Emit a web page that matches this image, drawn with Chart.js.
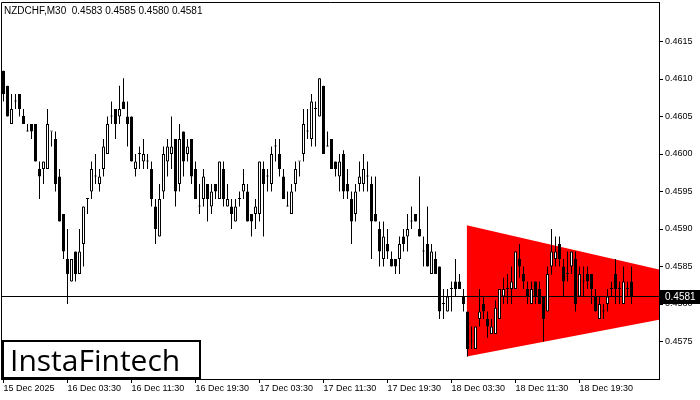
<!DOCTYPE html>
<html><head><meta charset="utf-8">
<script src="https://cdn.jsdelivr.net/npm/chart.js@4.4.0/dist/chart.umd.min.js"></script>
<style>html,body{margin:0;padding:0;background:#fff;}#wrap{width:700px;height:400px;}</style>
</head><body><div id="wrap"><canvas id="c" width="700" height="400"></canvas></div>
<script>
const symbol = 'NZDCHF,M30';
const openP = [
0.46111,0.46091,0.46040,0.46070,0.46080,0.46051,0.46030,0.46040,0.46040,0.45980,
0.45980,0.45980,0.46030,0.46020,0.45970,0.45920,0.45860,0.45830,0.45870,0.45840,
0.45880,0.45940,0.45950,0.45970,0.45960,0.45980,0.46000,0.46050,0.46060,0.46050,
0.46070,0.46050,0.46050,0.45980,0.46000,0.45990,0.45990,0.45980,0.45930,0.45890,
0.45950,0.45990,0.46000,0.46020,0.45960,0.46030,0.46000,0.46020,0.45980,0.45930,
0.45940,0.45960,0.45930,0.45960,0.45940,0.45980,0.45930,0.45930,0.45910,0.45940,
0.45950,0.45950,0.45920,0.45920,0.45920,0.45980,0.45970,0.45960,0.46010,0.46000,
0.45970,0.45930,0.45920,0.45960,0.45990,0.46000,0.46030,0.46020,0.46060,0.46050,
0.46091,0.46010,0.46020,0.45990,0.45970,0.46000,0.45960,0.45940,0.45920,0.45960,
0.45960,0.45970,0.45960,0.45920,0.45900,0.45860,0.45880,0.45860,0.45860,0.45860,
0.45890,0.45890,0.45910,0.45920,0.45900,0.45870,0.45880,0.45840,0.45860,0.45850,
0.45800,0.45790,0.45820,0.45830,0.45830,0.45810,0.45790,0.45750,0.45740,0.45780,
0.45800,0.45780,0.45760,0.45760,0.45780,0.45810,0.45820,0.45820,0.45820,0.45860,
0.45840,0.45820,0.45800,0.45830,0.45820,0.45810,0.45790,0.45850,0.45860,0.45880,
0.45850,0.45840,0.45850,0.45860,0.45810,0.45830,0.45840,0.45840,0.45810,0.45780,
0.45790,0.45800,0.45820,0.45840,0.45820,0.45800,0.45820,0.45830];
const highP = [
0.46111,0.46091,0.46080,0.46080,0.46080,0.46060,0.46040,0.46040,0.46040,0.45990,
0.45990,0.46060,0.46030,0.46030,0.45980,0.45920,0.45900,0.45860,0.45870,0.45900,
0.45930,0.45940,0.45990,0.46000,0.45980,0.46020,0.46050,0.46070,0.46060,0.46091,
0.46101,0.46070,0.46050,0.46000,0.46010,0.46020,0.46000,0.45990,0.45940,0.45960,
0.46010,0.46020,0.46050,0.46020,0.46040,0.46030,0.46020,0.46020,0.45990,0.45960,
0.45980,0.45960,0.45960,0.45960,0.45990,0.45990,0.45960,0.45940,0.45940,0.45950,
0.45980,0.45960,0.45920,0.45940,0.45990,0.45990,0.45980,0.46010,0.46020,0.46020,
0.45980,0.45950,0.45960,0.45990,0.45990,0.46060,0.46060,0.46080,0.46070,0.46101,
0.46091,0.46030,0.46020,0.45990,0.46000,0.46005,0.45980,0.45950,0.45960,0.45990,
0.46000,0.45990,0.45970,0.45970,0.45910,0.45910,0.45900,0.45870,0.45860,0.45890,
0.45900,0.45920,0.45930,0.45920,0.45970,0.45890,0.45930,0.45880,0.45870,0.45850,
0.45820,0.45820,0.45830,0.45860,0.45840,0.45820,0.45790,0.45770,0.45770,0.45820,
0.45810,0.45790,0.45780,0.45805,0.45820,0.45835,0.45840,0.45850,0.45870,0.45880,
0.45850,0.45830,0.45830,0.45830,0.45830,0.45810,0.45850,0.45900,0.45890,0.45890,
0.45860,0.45870,0.45870,0.45870,0.45850,0.45850,0.45850,0.45840,0.45820,0.45810,
0.45800,0.45820,0.45830,0.45860,0.45830,0.45850,0.45830,0.45850];
const lowP = [
0.46070,0.46050,0.46040,0.46060,0.46050,0.46040,0.46030,0.46020,0.45990,0.45940,
0.45960,0.45980,0.46010,0.45950,0.45910,0.45860,0.45800,0.45830,0.45830,0.45840,
0.45850,0.45920,0.45940,0.45960,0.45950,0.45970,0.46000,0.46040,0.46020,0.46040,
0.46060,0.46010,0.45990,0.45970,0.45980,0.45980,0.45980,0.45930,0.45880,0.45890,
0.45940,0.45970,0.45980,0.45930,0.45950,0.45970,0.45990,0.45960,0.45940,0.45920,
0.45930,0.45910,0.45920,0.45940,0.45940,0.45930,0.45930,0.45900,0.45910,0.45930,
0.45940,0.45910,0.45890,0.45900,0.45910,0.45890,0.45950,0.45950,0.45990,0.45970,
0.45940,0.45930,0.45920,0.45950,0.45970,0.45990,0.46020,0.46010,0.46010,0.46050,
0.46000,0.46010,0.45980,0.45970,0.45950,0.45940,0.45940,0.45880,0.45910,0.45950,
0.45950,0.45950,0.45860,0.45910,0.45850,0.45850,0.45860,0.45850,0.45840,0.45840,
0.45870,0.45870,0.45900,0.45910,0.45890,0.45850,0.45850,0.45840,0.45840,0.45780,
0.45780,0.45790,0.45790,0.45810,0.45820,0.45790,0.45730,0.45740,0.45740,0.45770,
0.45780,0.45755,0.45760,0.45760,0.45780,0.45800,0.45800,0.45800,0.45820,0.45835,
0.45820,0.45800,0.45800,0.45800,0.45800,0.45750,0.45790,0.45839,0.45850,0.45850,
0.45810,0.45830,0.45840,0.45790,0.45810,0.45810,0.45820,0.45800,0.45790,0.45780,
0.45780,0.45790,0.45810,0.45800,0.45800,0.45800,0.45810,0.45800];
const closeP = [
0.46080,0.46050,0.46060,0.46070,0.46060,0.46040,0.46030,0.46030,0.45990,0.45970,
0.45990,0.46040,0.46030,0.45960,0.45910,0.45870,0.45840,0.45860,0.45840,0.45870,
0.45930,0.45940,0.45980,0.45970,0.45970,0.46010,0.46040,0.46050,0.46040,0.46060,
0.46060,0.46040,0.45990,0.45990,0.46000,0.46000,0.45990,0.45940,0.45900,0.45940,
0.46000,0.46010,0.46010,0.45950,0.46020,0.45990,0.46010,0.45970,0.45940,0.45930,
0.45970,0.45940,0.45950,0.45950,0.45990,0.45940,0.45940,0.45920,0.45930,0.45940,
0.45960,0.45910,0.45910,0.45930,0.45990,0.45960,0.45970,0.46000,0.46010,0.45980,
0.45940,0.45930,0.45950,0.45980,0.45990,0.46040,0.46030,0.46070,0.46060,0.46101,
0.46000,0.46010,0.45980,0.45980,0.45990,0.45950,0.45950,0.45910,0.45950,0.45970,
0.45980,0.45970,0.45910,0.45910,0.45870,0.45890,0.45870,0.45850,0.45850,0.45880,
0.45880,0.45900,0.45910,0.45910,0.45890,0.45870,0.45850,0.45870,0.45840,0.45790,
0.45800,0.45810,0.45820,0.45820,0.45820,0.45800,0.45740,0.45750,0.45770,0.45790,
0.45790,0.45770,0.45770,0.45795,0.45820,0.45820,0.45820,0.45830,0.45870,0.45850,
0.45830,0.45810,0.45820,0.45810,0.45800,0.45780,0.45840,0.45870,0.45870,0.45860,
0.45830,0.45840,0.45870,0.45800,0.45840,0.45830,0.45830,0.45820,0.45790,0.45800,
0.45790,0.45810,0.45820,0.45820,0.45820,0.45830,0.45820,0.45810];
const timeTickIndex = [0,16,32,48,64,80,96,112,128,144];
const timeTickLabels = ['15 Dec 2025','16 Dec 03:30','16 Dec 11:30','16 Dec 19:30','17 Dec 03:30','17 Dec 11:30','17 Dec 19:30','18 Dec 03:30','18 Dec 11:30','18 Dec 19:30'];
const priceTicks = [0.4575,0.4580,0.4585,0.4590,0.4595,0.4600,0.4605,0.4610,0.4615];
const triangleX = [115.8, 163.875];
const triangleTop = [0.45905, 0.45846];
const triangleBottom = [0.45730, 0.45779];

const last = closeP.length - 1;
const lastPrice = closeP[last];
const xMin = -0.625, xMax = 163.875, yMin = 0.4570, yMax = 0.4620267;
const idx = openP.map((_, i) => i);
const fmt = v => v.toFixed(4);
const headerText = symbol + '  ' + fmt(openP[last]) + ' ' + fmt(highP[last]) + ' ' + fmt(lowP[last]) + ' ' + fmt(lastPrice);

const decor = {
  id: 'decor',
  beforeDatasetsDraw(chart) {
    const ctx = chart.ctx, a = chart.chartArea;
    ctx.save();
    ctx.strokeStyle = '#000'; ctx.lineWidth = 1;
    ctx.beginPath();
    ctx.moveTo(a.left + 0.5, a.bottom); ctx.lineTo(a.left + 0.5, a.top + 0.5); ctx.lineTo(a.right, a.top + 0.5);
    ctx.stroke();
    ctx.restore();
  },
  afterDraw(chart) {
    const ctx = chart.ctx, a = chart.chartArea;
    const y = chart.scales.y.getPixelForValue(lastPrice);
    ctx.save();
    // current price tag
    ctx.fillStyle = '#000';
    ctx.fillRect(a.right + 1, Math.round(y) - 7, 700 - a.right - 1, 14);
    ctx.fillStyle = '#fff';
    ctx.font = '10px "Liberation Sans", Arial, sans-serif';
    ctx.textBaseline = 'middle';
    ctx.fillText(fmt(lastPrice), a.right + 6, Math.round(y) + 0.5);
    // header
    ctx.fillStyle = '#000';
    ctx.fillText(headerText, 4, 11);
    // logo
    ctx.fillStyle = '#fff';
    ctx.fillRect(2, 340, 199, 39);
    ctx.strokeStyle = '#000'; ctx.lineWidth = 2;
    ctx.strokeRect(3, 341, 197, 37);
    ctx.fillStyle = '#000';
    ctx.font = '30px "Open Sans", sans-serif';
    ctx.textBaseline = 'alphabetic';
    ctx.fillText('InstaFintech', 10, 371);
    ctx.restore();
  }
};

const tickFont = { family: '"Liberation Sans", Arial, sans-serif', size: 9 };

new Chart(document.getElementById('c'), {
  type: 'line',
  data: {
    datasets: [
      {
        type: 'bar', label: 'body', order: 0, grouped: false,
        data: idx.map(i => ({ x: i, y: [openP[i], closeP[i]] })),
        backgroundColor: idx.map(i => closeP[i] > openP[i] ? '#fff' : '#000'),
        borderColor: '#000', borderWidth: 1, borderSkipped: false,
        barThickness: 3, minBarLength: 1, inflateAmount: 0
      },
      {
        type: 'bar', label: 'wick', order: 1, grouped: false,
        data: idx.map(i => ({ x: i, y: [lowP[i], highP[i]] })),
        backgroundColor: '#000', borderWidth: 0,
        barThickness: 1, inflateAmount: 0
      },
      {
        type: 'line', label: 'price', order: 2,
        data: [{ x: xMin, y: lastPrice }, { x: xMax, y: lastPrice }],
        borderColor: '#000', borderWidth: 1, pointRadius: 0, fill: false
      },
      {
        type: 'line', label: 'triTop', order: 4,
        data: triangleX.map((x, k) => ({ x, y: triangleTop[k] })),
        borderWidth: 0, borderColor: 'rgba(0,0,0,0)', pointRadius: 0,
        fill: '+1', backgroundColor: '#ff0000'
      },
      {
        type: 'line', label: 'triBottom', order: 5,
        data: triangleX.map((x, k) => ({ x, y: triangleBottom[k] })),
        borderWidth: 0, borderColor: 'rgba(0,0,0,0)', pointRadius: 0, fill: false
      }
    ]
  },
  options: {
    responsive: false, animation: false, devicePixelRatio: 1,
    layout: { padding: { left: 1, top: 2, right: 0, bottom: 0 } },
    plugins: { legend: { display: false }, tooltip: { enabled: false } },
    scales: {
      x: {
        type: 'linear', position: 'bottom', min: xMin, max: xMax, offset: false,
        grid: { display: true, offset: false, drawOnChartArea: false, drawTicks: true, tickLength: 4, color: '#000' },
        border: { display: true, color: '#000', width: 1 },
        ticks: {
          align: 'start', autoSkip: false, maxRotation: 0, minRotation: 0, padding: 0,
          color: '#000', font: tickFont,
          callback: (v, i) => timeTickLabels[i]
        },
        afterBuildTicks: s => { s.ticks = timeTickIndex.map(v => ({ value: v })); },
        afterFit: s => { s.height = 21; s.paddingLeft = 0; s.paddingRight = 0; }
      },
      y: {
        type: 'linear', position: 'right', min: yMin, max: yMax,
        grid: { display: true, drawOnChartArea: false, drawTicks: true, tickLength: 4, color: '#000' },
        border: { display: true, color: '#000', width: 1 },
        ticks: { padding: 2, color: '#000', font: tickFont, callback: v => fmt(v) },
        afterBuildTicks: s => { s.ticks = priceTicks.map(v => ({ value: v })); },
        afterFit: s => { s.width = 41; s.paddingTop = 0; s.paddingBottom = 0; }
      }
    }
  },
  plugins: [decor]
});
</script>
</body></html>
